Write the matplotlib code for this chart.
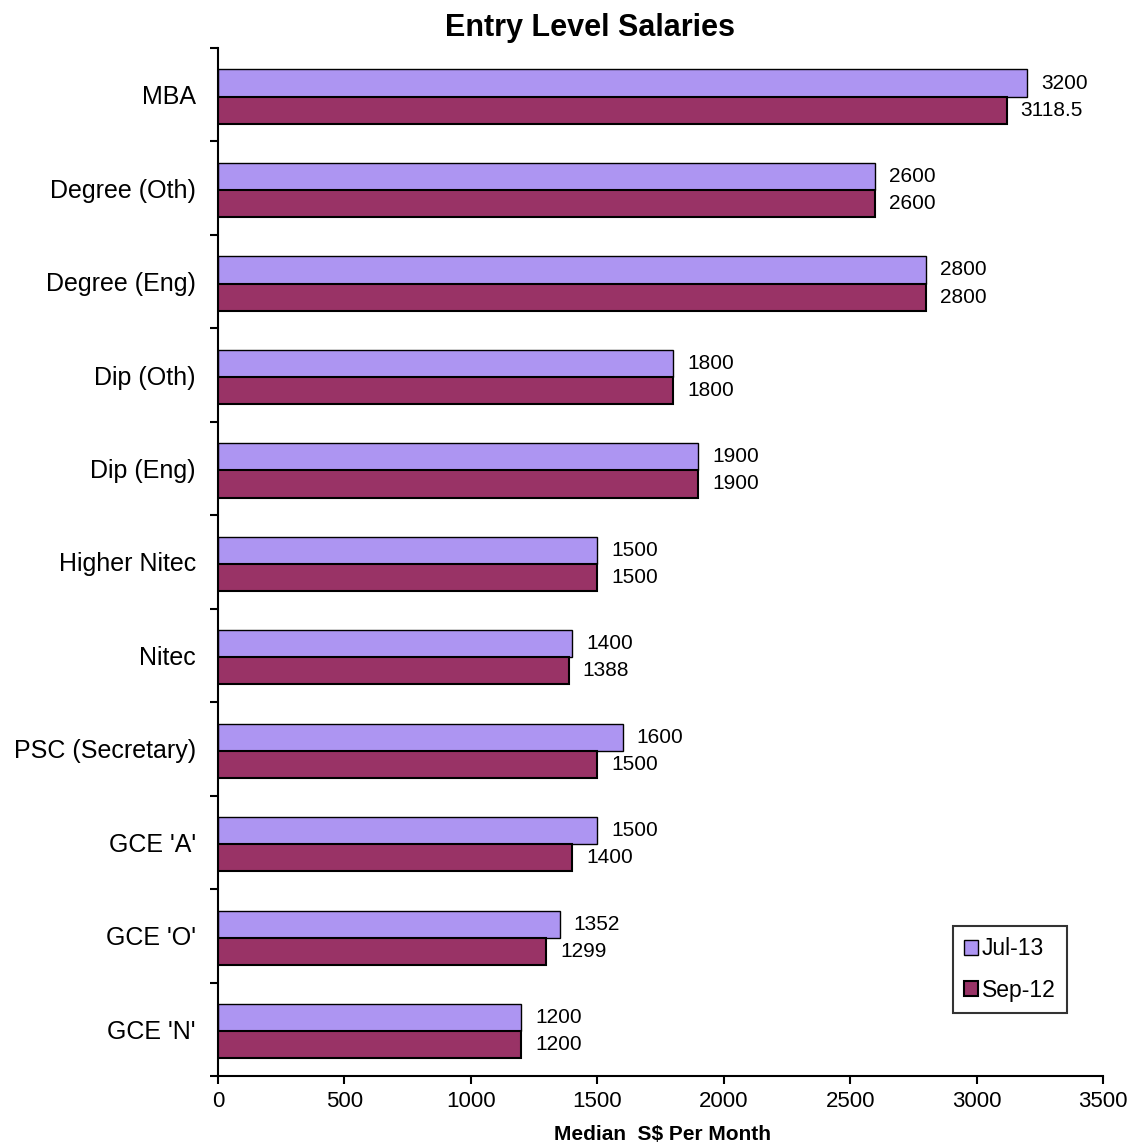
import matplotlib
matplotlib.use("Agg")
import matplotlib.pyplot as plt
import numpy as np

categories = ["MBA", "Degree (Oth)", "Degree (Eng)", "Dip (Oth)", "Dip (Eng)",
              "Higher Nitec", "Nitec", "PSC (Secretary)", "GCE 'A'", "GCE 'O'", "GCE 'N'"]
jul13 = [3200, 2600, 2800, 1800, 1900, 1500, 1400, 1600, 1500, 1352, 1200]
sep12 = [3118.5, 2600, 2800, 1800, 1900, 1500, 1388, 1500, 1400, 1299, 1200]
jul_labels = ["3200", "2600", "2800", "1800", "1900", "1500", "1400", "1600", "1500", "1352", "1200"]
sep_labels = ["3118.5", "2600", "2800", "1800", "1900", "1500", "1388", "1500", "1400", "1299", "1200"]
xticks = [0, 500, 1000, 1500, 2000, 2500, 3000, 3500]

plt.rcParams['font.family'] = ['Liberation Sans', 'DejaVu Sans']

fig = plt.figure(figsize=(11.31, 11.44), dpi=100)
ax = fig.add_axes([218/1131, 1 - 1076/1144, (1103-218)/1131, (1076-48)/1144])

n = len(categories)
y = np.arange(n)
h = 0.29
c_jul = "#AD95F2"
c_sep = "#993366"

ax.barh(y - h/2 + 0.02, jul13, height=h, color=c_jul, edgecolor="black", linewidth=1, label="Jul-13")
ax.barh(y + h/2 + 0.02, sep12, height=h, color=c_sep, edgecolor="black", linewidth=1.5, label="Sep-12")

for i in range(n):
    ax.annotate(jul_labels[i], (jul13[i], y[i] - h/2 + 0.02), xytext=(10, 0), textcoords="offset points",
                va="center", ha="left", fontsize=15)
    ax.annotate(sep_labels[i], (sep12[i], y[i] + h/2 + 0.02), xytext=(10, 0), textcoords="offset points",
                va="center", ha="left", fontsize=15)

ax.set_ylim(n - 0.5, -0.5)
ax.set_xlim(0, 3500)
ax.set_xticks(xticks)
ax.set_xticklabels([str(v) for v in xticks], fontsize=16)
ax.set_yticks(y)
ax.set_yticklabels(categories, fontsize=18)
ax.set_yticks(np.arange(-0.5, n, 1.0), minor=True)
ax.tick_params(axis="y", which="major", length=0, pad=16)
ax.tick_params(axis="y", which="minor", length=6, width=1.5, direction="out")
ax.tick_params(axis="x", which="major", length=6, width=1.5, direction="out", pad=5)

for s in ["top", "right"]:
    ax.spines[s].set_visible(False)
ax.spines["left"].set_linewidth(1.5)
ax.spines["bottom"].set_linewidth(1.5)

fig.text(590/1131, 1 - 28/1144, "Entry Level Salaries", ha="center", va="center",
         fontsize=22, fontweight="bold")
fig.text(663/1131, 1 - 1134/1144, "Median  S$ Per Month", ha="center", va="center",
         fontsize=15, fontweight="bold")

leg = ax.legend(loc="upper left", bbox_to_anchor=((953-218)/885, (1076-926)/1028),
                fontsize=16.5, frameon=True, fancybox=False, edgecolor="black",
                handlelength=0.6, handleheight=0.6, handletextpad=0.15, labelspacing=0.8,
                borderpad=0.5, borderaxespad=0)
leg.get_frame().set_linewidth(1.5)

fig.savefig("out.png", dpi=100)
